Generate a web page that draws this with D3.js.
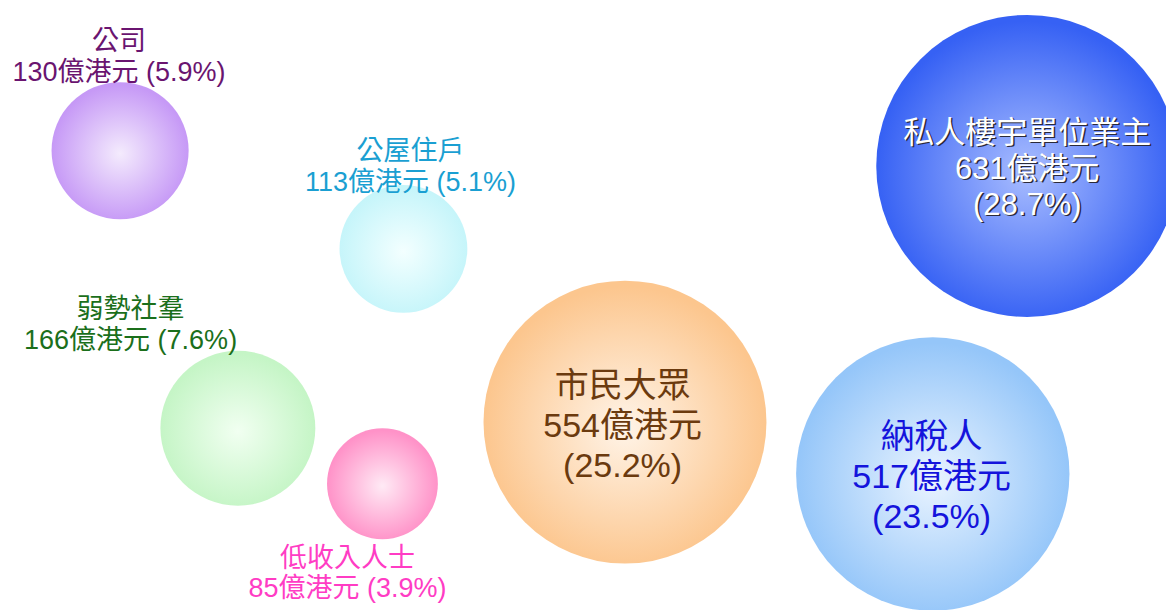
<!DOCTYPE html>
<html>
<head>
<meta charset="utf-8">
<script src="https://cdn.jsdelivr.net/npm/d3@7"></script>
<style>
  html, body { margin: 0; padding: 0; background: #fff; }
  #chart { width: 1166px; height: 610px; }
</style>
</head>
<body>
<div id="chart"></div>
<script>
// -------------------------------
// Bubble chart: 受惠群組 (億港元)
// -------------------------------

const groups   = ["公司", "公屋住戶", "私人樓宇單位業主", "弱勢社羣", "低收入人士", "市民大眾", "納稅人"];
const amounts  = [130, 113, 631, 166, 85, 554, 517];
const shares   = [5.9, 5.1, 28.7, 7.6, 3.9, 25.2, 23.5];

// bubble centres, in layout units (0-100 across, 0-100 down)
const posX = [10.3, 34.6, 88.1, 20.4, 32.8, 53.6, 80.0];
const posY = [24.7, 40.8, 27.2, 70.2, 79.3, 69.2, 77.7];

// label anchors (first line baseline), same units
const labelX = [10.2, 35.2, 88.1, 11.2, 29.8, 53.4, 79.9];
const labelY = [8.2, 26.2, 23.4, 52.1, 93.0, 65.1, 73.4];

const width = 1166, height = 610;

const x = d3.scaleLinear().domain([0, 100]).range([0, width]);
const y = d3.scaleLinear().domain([0, 100]).range([0, height]);
const r = d3.scaleSqrt().domain([0, 631]).range([0, 151]);

// gradient colours per bubble (centre, edge) and text styles
const styles = [
  { inner: "#f4ebfd", edge: "#c699f6", text: "#6a1470", size: 27, lh: 31, inside: false },
  { inner: "#f3ffff", edge: "#c6f5fa", text: "#1a9fd2", size: 27, lh: 31, inside: false },
  { inner: "#a9bdff", edge: "#3661f4", text: "#ffffff", size: 31, lh: 36, inside: true, shadow: true },
  { inner: "#f1fff1", edge: "#c5f5c6", text: "#1b6f1b", size: 27, lh: 31, inside: false },
  { inner: "#ffeaf5", edge: "#ff92c8", text: "#ff3cc4", size: 27, lh: 30, inside: false },
  { inner: "#fff4e8", edge: "#fcc68e", text: "#6b3a0e", size: 34, lh: 40, inside: true },
  { inner: "#eaf4ff", edge: "#95c6f9", text: "#1414dc", size: 34, lh: 40, inside: true }
];

const data = groups.map((g, i) => ({
  name: g,
  amount: amounts[i],
  share: shares[i],
  cx: posX[i],
  cy: posY[i],
  lx: labelX[i],
  ly: labelY[i],
  style: styles[i],
  id: "grad" + i
}));

const svg = d3.select("#chart")
  .append("svg")
  .attr("width", width)
  .attr("height", height);

const defs = svg.append("defs");

data.forEach(d => {
  const grad = defs.append("radialGradient")
    .attr("id", d.id)
    .attr("cx", "50%")
    .attr("cy", "52%")
    .attr("r", "50%");
  grad.append("stop").attr("offset", "0%").attr("stop-color", d.style.inner);
  grad.append("stop").attr("offset", "100%").attr("stop-color", d.style.edge);
});

// bubbles
svg.selectAll("circle.bubble")
  .data(data)
  .enter()
  .append("circle")
  .attr("class", "bubble")
  .attr("cx", d => x(d.cx))
  .attr("cy", d => y(d.cy))
  .attr("r", d => r(d.amount))
  .attr("fill", d => `url(#${d.id})`);

// labels
function lines(d) {
  if (d.style.inside) {
    return [d.name, `${d.amount}億港元`, `(${d.share}%)`];
  }
  return [d.name, `${d.amount}億港元 (${d.share}%)`];
}

const fontFamily = "'Liberation Sans', Arial, 'Noto Sans CJK TC', sans-serif";

data.forEach(d => {
  const ls = lines(d);
  const layers = d.style.shadow ? [{ dx: 1.5, dy: 1.5, fill: "#2a2a3a" }, { dx: 0, dy: 0, fill: d.style.text }]
                                : [{ dx: 0, dy: 0, fill: d.style.text }];
  layers.forEach(layer => {
    const t = svg.append("text")
      .attr("text-anchor", "middle")
      .style("font-family", fontFamily)
      .style("font-size", d.style.size + "px")
      .style("fill", layer.fill);
    ls.forEach((line, k) => {
      t.append("tspan")
        .attr("x", x(d.lx) + layer.dx)
        .attr("y", y(d.ly) + k * d.style.lh + layer.dy)
        .text(line);
    });
  });
});
</script>
</body>
</html>
